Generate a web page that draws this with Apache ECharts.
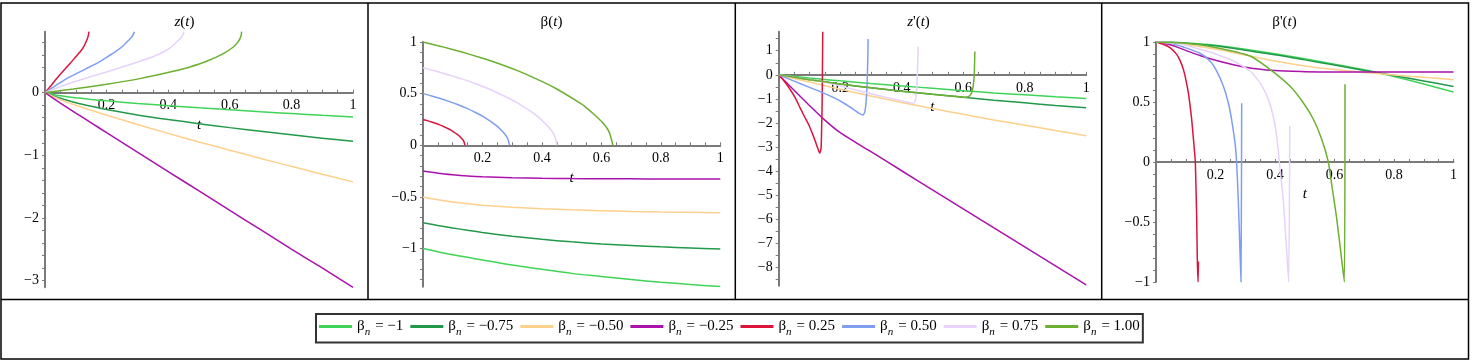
<!DOCTYPE html>
<html>
<head>
<meta charset="utf-8">
<script src="https://cdn.jsdelivr.net/npm/echarts@6/dist/echarts.min.js"></script>
<style>
html,body{margin:0;padding:0;background:#fff;}
#c{width:1477px;height:364px;}
</style>
</head>
<body>
<div id="c"></div>
<script>
// ---------- categories / legend ----------
const betaValues = ['−1', '−0.75', '−0.50', '−0.25', '0.25', '0.50', '0.75', '1.00'];
const seriesColors = ['#3fd457', '#22994a', '#fdd08c', '#ab12ab', '#dc143c', '#7f9ef0', '#e6d2fa', '#6db031'];

// shared t samples for beta_n < 0
const tNeg = [0, 0.05, 0.1, 0.15, 0.2, 0.3, 0.4, 0.5, 0.6, 0.7, 0.8, 0.9, 1];

// ---------- panel 1 : z(t) ----------
const z_m100 = [0, -0.050, -0.081, -0.107, -0.130, -0.171, -0.208, -0.242, -0.274, -0.305, -0.333, -0.361, -0.388];
const z_m075 = [0, -0.090, -0.160, -0.218, -0.270, -0.355, -0.428, -0.495, -0.558, -0.616, -0.672, -0.726, -0.777];
const z_m050 = [0, -0.110, -0.200, -0.281, -0.359, -0.507, -0.650, -0.787, -0.919, -1.050, -1.177, -1.302, -1.425];
const z_m025 = [0, -0.165, -0.325, -0.482, -0.638, -0.950, -1.26, -1.57, -1.88, -2.19, -2.50, -2.80, -3.11];
const zt_p025 = [0, 0.02, 0.0379, 0.06, 0.081, 0.1, 0.1136, 0.125, 0.133, 0.138, 0.1407, 0.1429];
const z_p025  = [0, 0.115, 0.226, 0.35, 0.465, 0.575, 0.651, 0.73, 0.81, 0.87, 0.917, 0.975];
const zt_p050 = [0, 0.035, 0.0703, 0.11, 0.146, 0.175, 0.2, 0.23, 0.254, 0.27, 0.2814, 0.287, 0.29];
const z_p050  = [0, 0.115, 0.226, 0.325, 0.415, 0.49, 0.565, 0.66, 0.75, 0.83, 0.89, 0.935, 0.975];
const zt_p075 = [0, 0.046, 0.092, 0.15, 0.2, 0.25, 0.308, 0.35, 0.384, 0.41, 0.4275, 0.44, 0.447, 0.4513];
const z_p075  = [0, 0.09, 0.172, 0.26, 0.332, 0.41, 0.502, 0.575, 0.651, 0.73, 0.81, 0.87, 0.917, 0.975];
const zt_p100 = [0, 0.092, 0.2, 0.308, 0.4166, 0.4708, 0.525, 0.579, 0.6115, 0.625, 0.633, 0.637, 0.6385];
const z_p100  = [0, 0.06, 0.135, 0.225, 0.343, 0.412, 0.502, 0.625, 0.73, 0.8, 0.864, 0.92, 0.975];

// ---------- panel 2 : beta(t) ----------
const b_m100 = [-1, -1.03, -1.06, -1.085, -1.11, -1.16, -1.2, -1.24, -1.27, -1.30, -1.325, -1.348, -1.368];
const b_m075 = [-0.75, -0.776, -0.80, -0.823, -0.845, -0.88, -0.91, -0.935, -0.955, -0.97, -0.983, -0.994, -1.003];
const b_m050 = [-0.5, -0.527, -0.55, -0.567, -0.58, -0.60, -0.615, -0.625, -0.633, -0.64, -0.645, -0.649, -0.652];
const b_m025 = [-0.25, -0.27, -0.285, -0.297, -0.305, -0.314, -0.319, -0.322, -0.324, -0.325, -0.3255, -0.326, -0.326];
const bt_p025 = [0, 0.014, 0.028, 0.042, 0.056, 0.071, 0.085, 0.099, 0.113, 0.12, 0.127, 0.134, 0.138, 0.141];
const b_p025  = [0.25, 0.239, 0.226, 0.213, 0.198, 0.18, 0.16, 0.138, 0.11, 0.095, 0.075, 0.053, 0.033, 0];
const bt_p050 = [0, 0.029, 0.058, 0.087, 0.116, 0.146, 0.175, 0.204, 0.233, 0.247, 0.262, 0.276, 0.285, 0.291];
const b_p050  = [0.5, 0.478, 0.453, 0.425, 0.395, 0.36, 0.32, 0.275, 0.22, 0.19, 0.15, 0.105, 0.065, 0];
const bt_p075 = [0, 0.045, 0.09, 0.135, 0.18, 0.226, 0.271, 0.316, 0.361, 0.383, 0.406, 0.428, 0.442, 0.451];
const b_p075  = [0.75, 0.716, 0.679, 0.638, 0.593, 0.54, 0.48, 0.413, 0.33, 0.285, 0.225, 0.158, 0.098, 0];
const bt_p100 = [0, 0.064, 0.128, 0.192, 0.256, 0.32, 0.383, 0.447, 0.511, 0.543, 0.575, 0.607, 0.626, 0.639];
const b_p100  = [1, 0.955, 0.905, 0.85, 0.79, 0.72, 0.64, 0.55, 0.44, 0.38, 0.30, 0.21, 0.13, 0];

// ---------- panel 3 : z'(t) ----------
const dz_m100 = [0, -0.065, -0.13, -0.19, -0.25, -0.36, -0.46, -0.56, -0.66, -0.75, -0.83, -0.91, -0.98];
const dz_m075 = [0, -0.10, -0.20, -0.29, -0.38, -0.54, -0.68, -0.81, -0.93, -1.05, -1.16, -1.27, -1.37];
const dz_m050 = [0, -0.155, -0.30, -0.45, -0.60, -0.88, -1.15, -1.40, -1.64, -1.87, -2.09, -2.31, -2.53];
const dz_m025 = [0, -0.64, -1.27, -1.88, -2.4, -3.19, -3.98, -4.77, -5.56, -6.35, -7.14, -7.93, -8.72];
const dzt_p025 = [0, 0.02, 0.04, 0.0543, 0.07, 0.0857, 0.0977, 0.11, 0.1194, 0.127, 0.1335, 0.1378, 0.1395, 0.141, 0.1421, 0.1432];
const dz_p025  = [0, -0.3, -0.66, -0.97, -1.38, -1.78, -2.07, -2.45, -2.77, -3.05, -3.25, -3.04, -2.3, -1.38, 0, 1.79];
const dzt_p050 = [0, 0.05, 0.1, 0.141, 0.184, 0.215, 0.245, 0.262, 0.2734, 0.2799, 0.2843, 0.2875, 0.2897, 0.2908];
const dz_p050  = [0, -0.26, -0.52, -0.73, -0.98, -1.2, -1.45, -1.6, -1.67, -1.55, -1.11, -0.41, 0.69, 1.49];
const dzt_p075 = [0, 0.07, 0.141, 0.206, 0.26, 0.314, 0.36, 0.401, 0.42, 0.434, 0.442, 0.445, 0.449, 0.4515, 0.4537];
const dz_p075  = [0, -0.14, -0.28, -0.48, -0.66, -0.83, -0.97, -1.08, -1.14, -1.18, -1.15, -1.04, -0.55, 0.28, 1.17];
const dzt_p100 = [0, 0.05, 0.1, 0.15, 0.2, 0.3, 0.4, 0.5, 0.55, 0.59, 0.6075, 0.6167, 0.625, 0.63, 0.634, 0.636, 0.638];
const dz_p100  = [0, -0.10, -0.20, -0.29, -0.38, -0.54, -0.68, -0.81, -0.87, -0.91, -0.935, -0.91, -0.8, -0.64, -0.3, 0.06, 0.97];

// ---------- panel 4 : beta'(t) ----------
const db_m100 = [1, 0.998, 0.992, 0.983, 0.973, 0.939, 0.902, 0.86, 0.815, 0.768, 0.712, 0.65, 0.583];
const db_m075 = [1, 0.998, 0.99, 0.98, 0.968, 0.931, 0.894, 0.851, 0.808, 0.762, 0.72, 0.675, 0.63];
const db_m050 = [1, 0.995, 0.979, 0.961, 0.941, 0.891, 0.841, 0.80, 0.77, 0.746, 0.725, 0.706, 0.686];
const db_m025 = [1, 0.975, 0.93, 0.885, 0.848, 0.79, 0.762, 0.753, 0.75, 0.75, 0.75, 0.75, 0.75];
const dbt_p025 = [0, 0.0246, 0.047, 0.0695, 0.081, 0.092, 0.1005, 0.1087, 0.1145, 0.1199, 0.1245, 0.1288, 0.1322, 0.1367, 0.139, 0.1415, 0.1425];
const db_p025  = [1, 0.981, 0.953, 0.897, 0.845, 0.772, 0.685, 0.578, 0.47, 0.356, 0.23, 0.106, 0, -0.464, -0.825, -1.0, -0.83];
const dbt_p050 = [0, 0.05, 0.092, 0.148, 0.1815, 0.204, 0.2263, 0.243, 0.254, 0.2655, 0.271, 0.2767, 0.2823, 0.2857, 0.288];
const db_p050  = [1, 0.99, 0.958, 0.906, 0.842, 0.758, 0.633, 0.494, 0.356, 0.161, 0, -0.325, -0.742, -1.0, 0.49];
const dbt_p075 = [0, 0.08, 0.148, 0.2, 0.26, 0.316, 0.3495, 0.3775, 0.394, 0.4056, 0.4145, 0.428, 0.4392, 0.446, 0.4497];
const db_p075  = [1, 0.985, 0.939, 0.9, 0.842, 0.758, 0.661, 0.522, 0.383, 0.217, 0, -0.325, -0.742, -1.0, 0.30];
const dbt_p100 = [0, 0.1, 0.204, 0.316, 0.383, 0.45, 0.495, 0.529, 0.557, 0.5793, 0.5905, 0.607, 0.6207, 0.6331, 0.6353];
const db_p100  = [1, 0.99, 0.953, 0.883, 0.772, 0.633, 0.494, 0.356, 0.189, 0, -0.186, -0.464, -0.742, -1.0, 0.647];

// ---------- tick labels ----------
const xTickValues = [0.2, 0.4, 0.6, 0.8, 1];
const xTickLabels = ['0.2', '0.4', '0.6', '0.8', '1'];
const y1TickValues = [0, -1, -2, -3];
const y1TickLabels = ['0', '−1', '−2', '−3'];
const y2TickValues = [1, 0.5, 0, -0.5, -1];
const y2TickLabels = ['1', '0.5', '0', '−0.5', '−1'];
const y3TickValues = [1, 0, -1, -2, -3, -4, -5, -6, -7, -8];
const y3TickLabels = ['1', '0', '−1', '−2', '−3', '−4', '−5', '−6', '−7', '−8'];
const y4TickValues = [1, 0.5, 0, -0.5, -1];
const y4TickLabels = ['1', '0.5', '0', '−0.5', '−1'];

// ---------- build ----------
const zip = (a, b) => a.map((t, i) => [t, b[i]]);
const panels = [
  { title: '{i|z}{r|(}{i|t}{r|)}', yMin: -3.11, yMax: 0.975, yv: y1TickValues, yl: y1TickLabels, minorStep: 0.2,
    data: [[tNeg, z_m100], [tNeg, z_m075], [tNeg, z_m050], [tNeg, z_m025], [zt_p025, z_p025], [zt_p050, z_p050], [zt_p075, z_p075], [zt_p100, z_p100]] },
  { title: '{r|β(}{i|t}{r|)}', yMin: -1.37, yMax: 1, yv: y2TickValues, yl: y2TickLabels, minorStep: 0.1,
    data: [[tNeg, b_m100], [tNeg, b_m075], [tNeg, b_m050], [tNeg, b_m025], [bt_p025, b_p025], [bt_p050, b_p050], [bt_p075, b_p075], [bt_p100, b_p100]] },
  { title: "{i|z}{r|'(}{i|t}{r|)}", yMin: -8.75, yMax: 1.79, yv: y3TickValues, yl: y3TickLabels, minorStep: 0.5,
    data: [[tNeg, dz_m100], [tNeg, dz_m075], [tNeg, dz_m050], [tNeg, dz_m025], [dzt_p025, dz_p025], [dzt_p050, dz_p050], [dzt_p075, dz_p075], [dzt_p100, dz_p100]] },
  { title: "{r|β'(}{i|t}{r|)}", yMin: -1, yMax: 1, yv: y4TickValues, yl: y4TickLabels, minorStep: 0.1,
    data: [[tNeg, db_m100], [tNeg, db_m075], [tNeg, db_m050], [tNeg, db_m025], [dbt_p025, db_p025], [dbt_p050, db_p050], [dbt_p075, db_p075], [dbt_p100, db_p100]] }
];

// layout (pixels)
const grids = [
  { left: 45, top: 31.7, width: 308, height: 255.6 },
  { left: 423, top: 42, width: 297.3, height: 244.8 },
  { left: 778.7, top: 31.7, width: 307.5, height: 254 },
  { left: 1156, top: 42, width: 297.5, height: 240 }
];
const cellCenters = [184.5, 551.5, 918.5, 1284.5];

const SERIF = 'Liberation Serif';
const AX = '#7a7a7a';
const names = betaValues.map(v => 'βn = ' + v);

function ticksWithMinor(min, max, step) {
  const out = [];
  const start = Math.ceil(min / step - 1e-9);
  const end = Math.floor(max / step + 1e-9);
  for (let k = start; k <= end; k++) out.push(+(k * step).toFixed(6));
  return out;
}

const option = {
  animation: false,
  backgroundColor: '#fff',
  title: panels.map((p, i) => ({
    text: p.title, left: cellCenters[i], top: 15, textAlign: 'center', padding: 0,
    textStyle: { fontWeight: 'normal', rich: {
      i: { fontFamily: SERIF, fontStyle: 'italic', fontWeight: 'normal', fontSize: 15, color: '#000' },
      r: { fontFamily: SERIF, fontWeight: 'normal', fontSize: 15, color: '#000' }
    } }
  })),
  legend: {
    data: names, top: 314, left: 316, orient: 'horizontal',
    icon: 'rect', itemWidth: 33, itemHeight: 3, itemGap: 7,
    borderColor: '#333', borderWidth: 2, padding: [5, 3, 5, 3],
    formatter: n => '{b|β}{s|n}{e| \u200A= ' + n.split('= ')[1] + '}',
    textStyle: { rich: {
      b: { fontFamily: SERIF, fontSize: 15, color: '#000', lineHeight: 22 },
      s: { fontFamily: SERIF, fontStyle: 'italic', fontSize: 11, color: '#000', verticalAlign: 'bottom', lineHeight: 12 },
      e: { fontFamily: SERIF, fontSize: 15, color: '#000', lineHeight: 22 }
    } }
  },
  grid: grids,
  xAxis: panels.map((p, i) => ({
    type: 'value', gridIndex: i, min: 0, max: 1, position: 'bottom',
    offset: -(-p.yMin) / (p.yMax - p.yMin) * grids[i].height,
    axisLine: { onZero: false, lineStyle: { color: AX, width: 2 } },
    axisTick: { show: true, customValues: ticksWithMinor(0, 1, 0.05), length: 3, inside: true, lineStyle: { color: AX, width: 1 } },
    axisLabel: { customValues: xTickValues, formatter: v => xTickLabels[xTickValues.indexOf(+v.toFixed(6))] || '',
      fontFamily: SERIF, fontSize: 14, color: '#000', margin: 6 },
    splitLine: { show: false },
    name: 't', nameLocation: 'middle', nameGap: 24,
    nameTextStyle: { fontFamily: SERIF, fontStyle: 'italic', fontSize: 15, color: '#000' }
  })),
  yAxis: panels.map((p, i) => ({
    type: 'value', gridIndex: i, min: p.yMin, max: p.yMax,
    axisLine: { onZero: false, lineStyle: { color: AX, width: 2 } },
    axisTick: { show: true, customValues: ticksWithMinor(p.yMin, p.yMax, p.minorStep), length: 3, lineStyle: { color: AX, width: 1 } },
    axisLabel: { customValues: p.yv, formatter: v => p.yl[p.yv.indexOf(+v.toFixed(6))] || '',
      fontFamily: SERIF, fontSize: 14, color: '#000', margin: 6 },
    splitLine: { show: false }
  })),
  series: []
};

panels.forEach((p, i) => {
  p.data.forEach((d, k) => {
    option.series.push({
      type: 'line', name: names[k], xAxisIndex: i, yAxisIndex: i,
      data: zip(d[0], d[1]), showSymbol: false, symbol: 'none',
      smooth: k < 4 ? 0.3 : 0.2,
      color: seriesColors[k],
      lineStyle: { color: seriesColors[k], width: 1.5 },
      z: 3 + k
    });
  });
});

option.graphic = [
  { type: 'rect', shape: { x: 1, y: 3, width: 1467.5, height: 356 }, style: { fill: 'none', stroke: '#000', lineWidth: 1.5 }, silent: true },
  { type: 'line', shape: { x1: 1, y1: 299.5, x2: 1468.5, y2: 299.5 }, style: { stroke: '#000', lineWidth: 1.5 }, silent: true },
  { type: 'line', shape: { x1: 368, y1: 3, x2: 368, y2: 299.5 }, style: { stroke: '#000', lineWidth: 1.5 }, silent: true },
  { type: 'line', shape: { x1: 735.3, y1: 3, x2: 735.3, y2: 299.5 }, style: { stroke: '#000', lineWidth: 1.5 }, silent: true },
  { type: 'line', shape: { x1: 1101.7, y1: 3, x2: 1101.7, y2: 299.5 }, style: { stroke: '#000', lineWidth: 1.5 }, silent: true }
];

const chart = echarts.init(document.getElementById('c'), null, { renderer: 'canvas' });
chart.setOption(option);
</script>
</body>
</html>
